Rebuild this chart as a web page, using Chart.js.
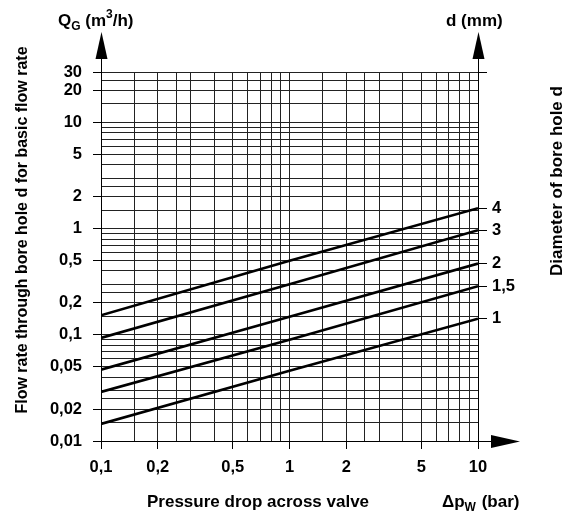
<!DOCTYPE html>
<html>
<head>
<meta charset="utf-8">
<title>Flow rate through bore hole d</title>
<script src="https://cdn.jsdelivr.net/npm/chart.js@4.4.0/dist/chart.umd.min.js"></script>
<style>
  body { margin: 0; background: #fff; }
  #wrap { width: 571px; height: 518px; }
</style>
</head>
<body>
<div id="wrap"><canvas id="flowChart" width="571" height="518"></canvas></div>
<script>
const pressureDrop = [0.1, 1, 10];

// flow rate Q_G (m3/h) for each bore hole diameter d (mm)
const flowD4 = [0.153, 0.5, 1.56];
const flowD3 = [0.0935, 0.3, 0.97];
const flowD2 = [0.047, 0.148, 0.47];
const flowD15 = [0.029, 0.09, 0.288];
const flowD1 = [0.0145, 0.046, 0.142];

const diameterLabels = ['4', '3', '2', '1,5', '1'];

// labelled ticks
const xTickLabels = [0.1, 0.2, 0.5, 1, 2, 5, 10];
const yTickLabels = [0.01, 0.02, 0.05, 0.1, 0.2, 0.5, 1, 2, 5, 10, 20, 30];

// grid lines of the log paper
const gridSteps = [1, 1.5, 2, 2.5, 3, 4, 5, 6, 7, 8, 9];
const xDecades = [0.1, 1];
const yDecades = [0.01, 0.1, 1];
const yTopLines = [10, 15, 20, 25, 30];

const xGrid = xDecades.flatMap(d => gridSteps.map(s => +(s * d).toPrecision(6))).concat([10]);
const yGrid = yDecades.flatMap(d => gridSteps.map(s => +(s * d).toPrecision(6))).concat(yTopLines);

const FONT = '"Liberation Sans", Arial, Helvetica, sans-serif';

function isLabel(list, v) {
     return list.some(t => Math.abs(t - v) / t < 1e-6);
}
function fmt(v) {
     return String(v).replace('.', ',');
}

const series = [flowD4, flowD3, flowD2, flowD15, flowD1];
const rightTicks = [30].concat(series.map(s => s[s.length - 1]));
const rightLabels = [''].concat(diameterLabels);

// arrows + titles drawn on top of the chart
const decorations = {
     id: 'decorations',
     afterDraw(chart) {
          const ctx = chart.ctx;
          const a = chart.chartArea;
          ctx.save();
          ctx.fillStyle = '#000';
          ctx.strokeStyle = '#000';
          ctx.lineWidth = 1;

          // vertical axis arrows (Q_G and d)
          [a.left, a.right].forEach(x => {
               const px = Math.round(x) + 0.5;
               ctx.beginPath();
               ctx.moveTo(px, a.top);
               ctx.lineTo(px, 56);
               ctx.stroke();
               ctx.beginPath();
               ctx.moveTo(px, 32);
               ctx.lineTo(px - 6, 59);
               ctx.lineTo(px + 6, 59);
               ctx.closePath();
               ctx.fill();
          });

          // horizontal axis arrow
          const py = Math.round(a.bottom) + 0.5;
          ctx.beginPath();
          ctx.moveTo(a.right, py);
          ctx.lineTo(494, py);
          ctx.stroke();
          ctx.beginPath();
          ctx.moveTo(520, py);
          ctx.lineTo(491, py - 6.5);
          ctx.lineTo(491, py + 6.5);
          ctx.closePath();
          ctx.fill();

          const big = 'bold 17px ' + FONT;
          const small = 'bold 12px ' + FONT;
          ctx.textBaseline = 'alphabetic';
          ctx.textAlign = 'left';

          // Q_G (m3/h)
          let x = 58;
          ctx.font = big; ctx.fillText('Q', x, 26); x += ctx.measureText('Q').width;
          ctx.font = small; ctx.fillText('G', x, 30); x += ctx.measureText('G').width;
          ctx.font = big; ctx.fillText(' (m', x, 26); x += ctx.measureText(' (m').width;
          ctx.font = small; ctx.fillText('3', x, 18); x += ctx.measureText('3').width;
          ctx.font = big; ctx.fillText('/h)', x, 26);

          // d (mm)
          ctx.font = big;
          ctx.fillText('d (mm)', 446, 26);

          // x axis title
          ctx.fillText('Pressure drop across valve', 147, 507);

          // delta p_W (bar)
          x = 442;
          ctx.fillText('\u0394p', x, 507); x += ctx.measureText('\u0394p').width;
          ctx.font = small; ctx.fillText('W', x, 511); x += ctx.measureText('W').width + 1;
          ctx.font = big; ctx.fillText(' (bar)', x, 507);

          // left title
          ctx.save();
          ctx.translate(27, 230);
          ctx.rotate(-Math.PI / 2);
          ctx.textAlign = 'center';
          ctx.font = 'bold 16px ' + FONT;
          ctx.fillText('Flow rate through bore hole d for basic flow rate', 0, 0);
          ctx.restore();

          // right title
          ctx.save();
          ctx.translate(562, 181);
          ctx.rotate(-Math.PI / 2);
          ctx.textAlign = 'center';
          ctx.font = big;
          ctx.fillText('Diameter of bore hole d', 0, 0);
          ctx.restore();

          ctx.restore();
     }
};

const tickFont = { family: FONT, size: 16.5, weight: 'bold' };

const ctx = document.getElementById('flowChart').getContext('2d');
new Chart(ctx, {
     type: 'line',
     data: {
          datasets: series.map((s, i) => ({
               label: 'd = ' + diameterLabels[i] + ' mm',
               data: pressureDrop.map((p, j) => ({ x: p, y: s[j] })),
               borderColor: '#000',
               borderWidth: 2.6,
               pointRadius: 0,
               tension: 0,
               fill: false
          }))
     },
     options: {
          responsive: false,
          animation: false,
          devicePixelRatio: 1,
          layout: { padding: { top: 72, left: 0, right: 0, bottom: 0 } },
          plugins: {
               legend: { display: false },
               tooltip: { enabled: false }
          },
          scales: {
               x: {
                    type: 'logarithmic',
                    position: 'bottom',
                    min: 0.1,
                    max: 10,
                    afterBuildTicks: scale => { scale.ticks = xGrid.map(v => ({ value: v })); },
                    afterFit: scale => { scale.height = 77; },
                    grid: {
                         color: '#222',
                         lineWidth: 1,
                         tickLength: 8,
                         tickColor: c => isLabel(xTickLabels, c.tick.value) ? '#000' : 'rgba(0,0,0,0)'
                    },
                    border: { color: '#000' },
                    ticks: {
                         autoSkip: false,
                         maxRotation: 0,
                         padding: 9,
                         color: '#000',
                         font: tickFont,
                         callback: v => isLabel(xTickLabels, v) ? fmt(v) : ''
                    }
               },
               y: {
                    type: 'logarithmic',
                    position: 'left',
                    min: 0.01,
                    max: 30,
                    afterBuildTicks: scale => { scale.ticks = yGrid.map(v => ({ value: v })); },
                    afterFit: scale => { scale.width = 101; },
                    grid: {
                         color: '#222',
                         lineWidth: 1,
                         tickLength: 8,
                         tickColor: c => isLabel(yTickLabels, c.tick.value) ? '#000' : 'rgba(0,0,0,0)'
                    },
                    border: { color: '#000' },
                    ticks: {
                         autoSkip: false,
                         padding: 11,
                         color: '#000',
                         font: tickFont,
                         callback: v => isLabel(yTickLabels, v) ? fmt(v) : ''
                    }
               },
               d: {
                    type: 'logarithmic',
                    position: 'right',
                    min: 0.01,
                    max: 30,
                    afterBuildTicks: scale => { scale.ticks = rightTicks.map(v => ({ value: v })); },
                    afterFit: scale => { scale.width = 93; },
                    grid: {
                         drawOnChartArea: false,
                         color: '#000',
                         tickLength: 9,
                         tickColor: '#000'
                    },
                    border: { color: '#000' },
                    ticks: {
                         autoSkip: false,
                         padding: 5,
                         color: '#000',
                         font: tickFont,
                         callback: (v, i) => rightLabels[i]
                    }
               }
          }
     },
     plugins: [decorations]
});
</script>
</body>
</html>
